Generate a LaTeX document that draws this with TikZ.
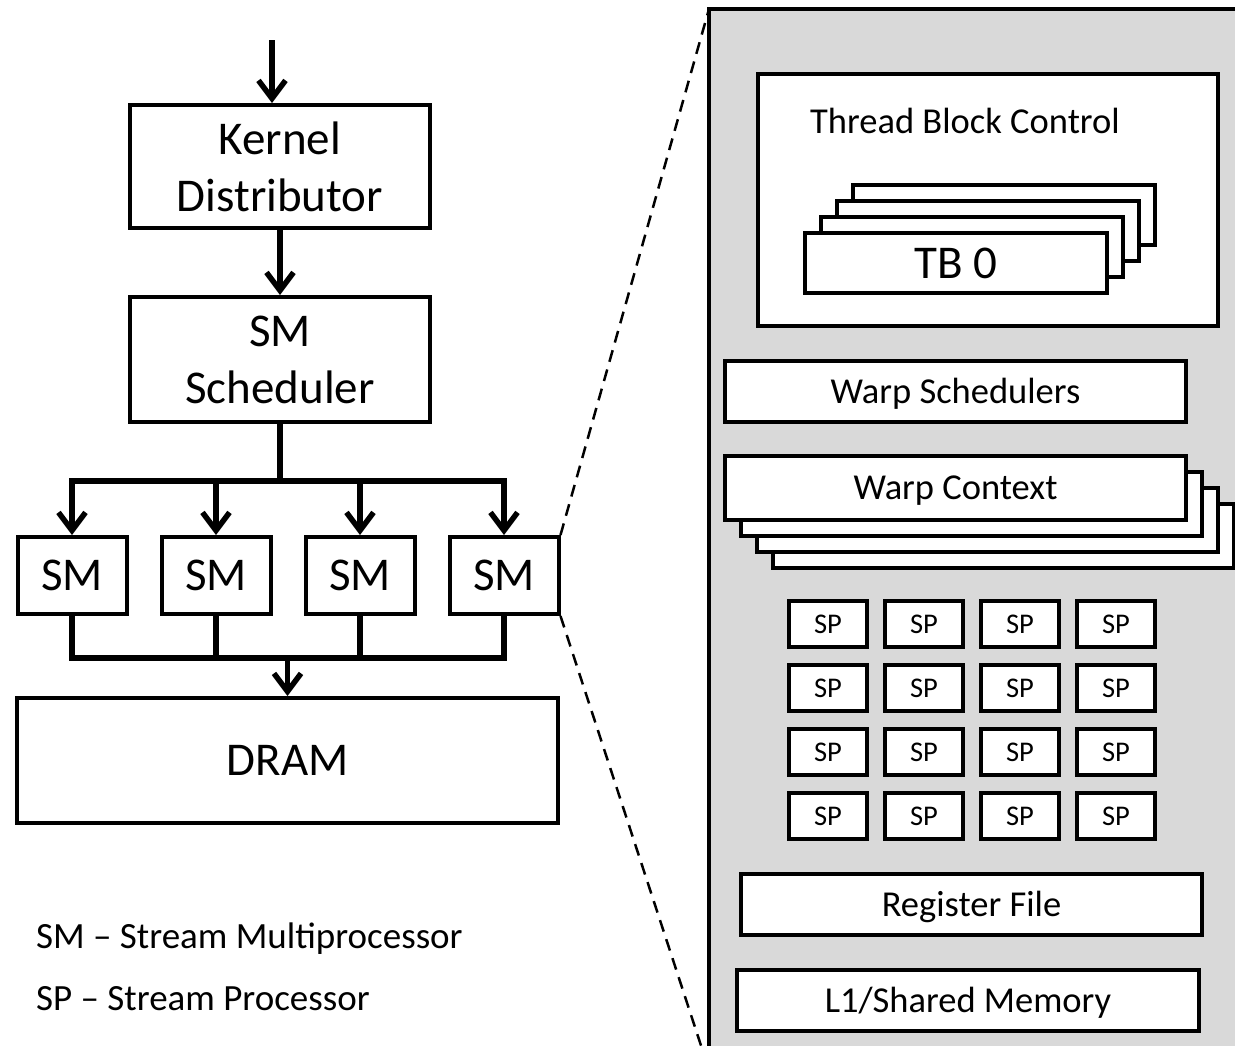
\documentclass[tikz,border=0pt]{standalone}
\usepackage{fontspec}
\setmainfont{Carlito}
\usetikzlibrary{arrows.meta}
\definecolor{panelgray}{RGB}{217,217,217}

\begin{document}
\begin{tikzpicture}[
x=1pt, y=-1pt,
box/.style={draw, fill=white, line width=4pt, inner sep=0pt, align=center},
bigfont/.style={font=\fontsize{47}{57}\selectfont},
midfont/.style={font=\fontsize{36.5}{44}\selectfont},
smallfont/.style={font=\fontsize{28.5}{34}\selectfont},
legendfont/.style={font=\fontsize{37}{44}\selectfont, inner sep=0pt},
capcenter/.style={text height=#1, text depth=0pt},
smbox/.style={box, bigfont, minimum width=109pt, minimum height=77pt},
tbbox/.style={box, bigfont, capcenter=30pt, minimum width=302pt, minimum height=60pt},
wideblock/.style={box, midfont, capcenter=23.5pt, minimum width=461pt, minimum height=61pt},
spbox/.style={box, smallfont, capcenter=18.4pt, minimum width=78pt, minimum height=46pt},
wire/.style={line width=5.5pt},
arrow/.style={wire, -{Straight Barb[length=18pt, width=27pt]}},
zoomline/.style={line width=2.5pt, dash pattern=on 12pt off 8pt},
panel/.style={draw, fill=panelgray, line width=4pt}
]

\useasboundingbox (0,0) rectangle (1235,1045);
\clip (0,0) rectangle (1235,1045);

%%%% GPU

\path (280,166.5) node[box, bigfont, minimum width=300pt, minimum height=123pt](KD){Kernel\\Distributor};
\path (280,359.5) node[box, bigfont, minimum width=300pt, minimum height=125pt](SMS){SM\\Scheduler};
\path (72,575.5) node[smbox](SM1){SM};
\path (216,575.5) node[smbox](SM2){SM};
\path (360,575.5) node[smbox](SM3){SM};
\path (504,575.5) node[smbox](SM4){SM};
\path (287.5,760.5) node[box, bigfont, minimum width=541pt, minimum height=125pt](DRAM){DRAM};

\path (272,40) coordinate(kernelin);
\draw[arrow] (kernelin) -- (kernelin |- KD.north);
\draw[arrow] (KD.south) -- (SMS.north);

%% to the SMs
\draw[wire] (SMS.south) --++(0,57) coordinate(bus);
\draw[wire, line cap=rect] (bus -| SM1.north) -- (bus -| SM4.north);
\draw[arrow] (bus -| SM1.north) -- (SM1.north);
\draw[arrow] (bus -| SM2.north) -- (SM2.north);
\draw[arrow] (bus -| SM3.north) -- (SM3.north);
\draw[arrow] (bus -| SM4.north) -- (SM4.north);

%% to DRAM
\draw[wire] (SM1.south) --++(0,42) coordinate(busB) -| (SM4.south);
\draw[wire] (SM2.south) -- (SM2.south |- busB);
\draw[wire] (SM3.south) -- (SM3.south |- busB);
\draw[arrow] (busB -| DRAM.north) -- (DRAM.north);

%% legend
\path (36,948) node[anchor=base west, legendfont](legSM){SM -- Stream Multiprocessor};
\path (36,1010) node[anchor=base west, legendfont](legSP){SP -- Stream Processor};

%%%% SM DETAIL

\draw[panel] (709,9) coordinate(P) rectangle (1260,1070) coordinate(Q);
\draw[zoomline] (SM4.north east) -- (P);
\draw[zoomline] (SM4.south east) -- (P |- Q);

%% thread block control
\path (988,200) node[box, minimum width=460pt, minimum height=252pt](TBC){};
\path (965,133) node[anchor=base, midfont, inner sep=0pt](TBCtext){Thread Block Control};
\path (956,263)++(48,-48) node[tbbox](TB3){};
\path (956,263)++(32,-32) node[tbbox](TB2){};
\path (956,263)++(16,-16) node[tbbox](TB1){};
\path (956,263) node[tbbox](TB0){TB 0};

%% warps
\path (955.5,391.5) node[wideblock](WS){Warp Schedulers};
\path (955.5,487.5)++(48,48) node[wideblock, minimum height=64pt](WC3){};
\path (955.5,487.5)++(32,32) node[wideblock, minimum height=64pt](WC2){};
\path (955.5,487.5)++(16,16) node[wideblock, minimum height=64pt](WC1){};
\path (955.5,487.5) node[wideblock, minimum height=64pt](WC0){Warp Context};

%% SPs
\foreach \r in {0,...,3}
  \foreach \c in {0,...,3}
    \path (828+96*\c, 624+64*\r) node[spbox](SP\r\c){SP};

%% memory
\path (971.5,904.5) node[wideblock](RF){Register File};
\path (968,1000.5) node[wideblock, minimum width=462pt](L1){L1/Shared Memory};

\end{tikzpicture}
\end{document}
